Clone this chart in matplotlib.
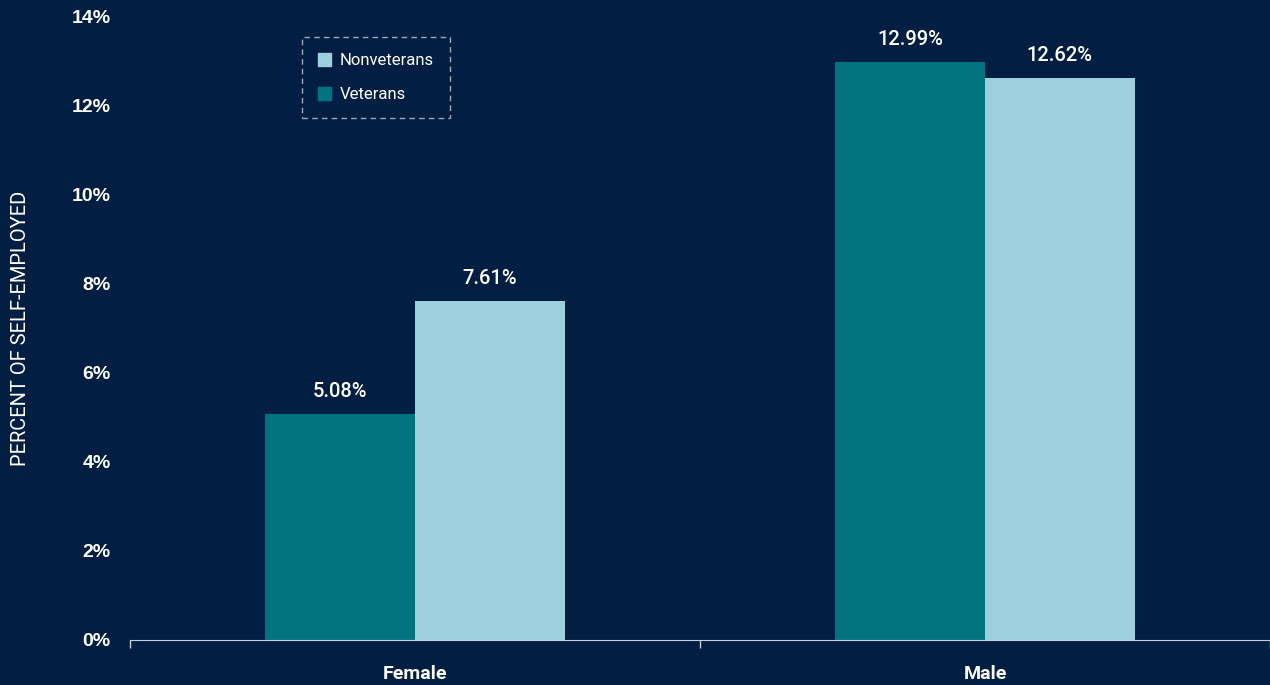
import matplotlib.pyplot as plt
from matplotlib.patches import Patch
from matplotlib.ticker import FixedLocator

groups = ["Female", "Male"]
veterans = [5.08, 12.99]
nonveterans = [7.61, 12.62]
yticks = [0, 2, 4, 6, 8, 10, 12, 14]

bg = "#031e43"
teal = "#00737f"
light = "#9dd0dc"

plt.rcParams['font.family'] = ['Roboto', 'DejaVu Sans']

fig = plt.figure(figsize=(12.7, 6.85), dpi=100, facecolor=bg)
ax = fig.add_axes([0.1024, 0.0657, 0.8976, 0.9095], facecolor=bg)

w = 0.2625
x = list(range(len(groups)))
ax.bar([i - w / 2 for i in x], veterans, width=w, color=teal)
ax.bar([i + w / 2 for i in x], nonveterans, width=w, color=light)

for i in x:
    ax.text(i - w / 2, veterans[i] + 0.3, f"{veterans[i]:.2f}%", ha="center", va="bottom",
            color="white", fontsize=14.5, fontweight="medium")
    ax.text(i + w / 2, nonveterans[i] + 0.3, f"{nonveterans[i]:.2f}%", ha="center", va="bottom",
            color="white", fontsize=14.5, fontweight="medium")

ax.set_xlim(-0.5, 1.5)
ax.set_ylim(0, 14)
ax.set_yticks(yticks)
ax.set_yticklabels([f"{t}%" for t in yticks], color="white", fontsize=14,
                   fontweight="bold", fontfamily="Liberation Sans")
ax.tick_params(axis="y", length=0, pad=14)
ax.set_xticks(x)
ax.set_xticklabels(groups, color="white", fontsize=14, fontweight="bold")
ax.tick_params(axis="x", which="major", length=0, pad=18)
ax.xaxis.set_minor_locator(FixedLocator([-0.5, 0.5, 1.5]))
ax.tick_params(axis="x", which="minor", length=6, color="#c8ccd4", width=1)

for s in ["top", "right", "left"]:
    ax.spines[s].set_visible(False)
ax.spines["bottom"].set_color("#c8ccd4")

ax.set_ylabel("PERCENT OF SELF-EMPLOYED", color="white", fontsize=14.5, labelpad=30)

handles = [Patch(color=light, label="Nonveterans"), Patch(color=teal, label="Veterans")]
leg = ax.legend(handles=handles, loc="upper left", bbox_to_anchor=(0.151, 0.968),
                borderaxespad=0, frameon=True, fontsize=12, handlelength=0.8,
                handleheight=0.8, handletextpad=0.5, borderpad=0.95, labelspacing=1.15,
                fancybox=False)
leg.get_frame().set_facecolor(bg)
leg.get_frame().set_edgecolor("#c8ccd4")
leg.get_frame().set_linestyle((0, (4, 3)))
leg.get_frame().set_linewidth(1)
for t in leg.get_texts():
    t.set_color("white")

fig.savefig("out.png", facecolor=bg)
